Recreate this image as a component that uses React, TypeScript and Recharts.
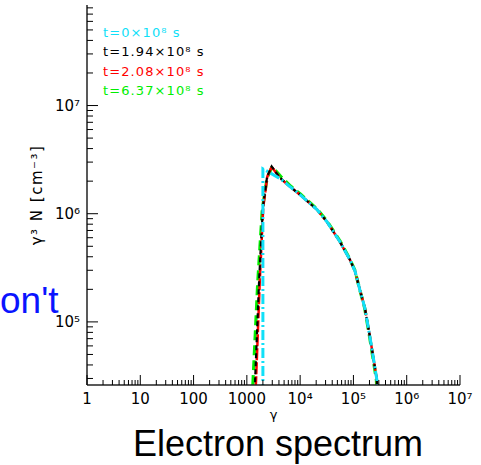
import React from 'react';
import { LineChart, Line, XAxis, YAxis, Legend } from 'recharts';

// values (log-log electron spectrum)
const seriesNames = ['t=0×10⁸ s', 't=1.94×10⁸ s', 't=2.08×10⁸ s', 't=6.37×10⁸ s'];
const seriesColors = ['#10e0f8', '#000000', '#ff0000', '#00ee00'];

const gammaT0 = [2000, 2000, 4300, 6440, 9910, 20700, 31800, 55800, 86000, 107000, 132000, 164000, 204000, 276000, 300000];
const nT0 = [1.0e4, 2.6e6, 2.1e6, 1.78e6, 1.5e6, 1.09e6, 8.43e5, 5.5e5, 3.75e5, 2.95e5, 1.98e5, 1.34e5, 7.3e4, 2.9e4, 1.0e4];

const gammaT1 = [1220, 1420, 1700, 2000, 2400, 2920, 4170, 6440, 9910, 20700, 31800, 55800, 86000, 107000, 132000, 164000, 204000, 276000, 300000];
const nT1 = [1.0e4, 2.7e4, 2.45e5, 1.15e6, 2.2e6, 2.74e6, 2.15e6, 1.78e6, 1.5e6, 1.09e6, 8.43e5, 5.5e5, 3.75e5, 2.95e5, 1.98e5, 1.34e5, 7.3e4, 2.9e4, 1.0e4];

const gammaT2 = [1270, 1480, 1750, 2030, 2420, 2920, 4170, 6440, 9910, 20700, 31800, 55800, 86000, 107000, 132000, 164000, 204000, 276000, 300000];
const nT2 = [1.0e4, 2.7e4, 2.4e5, 1.15e6, 2.2e6, 2.72e6, 2.14e6, 1.78e6, 1.5e6, 1.09e6, 8.43e5, 5.5e5, 3.75e5, 2.95e5, 1.98e5, 1.34e5, 7.3e4, 2.9e4, 1.0e4];

const gammaT3 = [1130, 1300, 1600, 1950, 2400, 2980, 4350, 6600, 10100, 21000, 32300, 56500, 86500, 107000, 131000, 162000, 200000, 270000, 295000];
const nT3 = [1.0e4, 2.7e4, 2.3e5, 1.1e6, 2.15e6, 2.72e6, 2.2e6, 1.8e6, 1.52e6, 1.1e6, 8.5e5, 5.55e5, 3.78e5, 2.98e5, 2.0e5, 1.35e5, 7.4e4, 2.9e4, 1.0e4];

const xDomain = [1, 1e7];
const yDomain = [2.61e4, 8.5e7];
const xMajorLabels = ['1', '10', '100', '1000', '10⁴', '10⁵', '10⁶', '10⁷'];
const yMajorLabels: Record<number, string> = { 5: '10⁵', 6: '10⁶', 7: '10⁷' };

const zip = (g: number[], n: number[]) => g.map((v, i) => ({ g: v, n: n[i] }));
const series = [
  { name: seriesNames[0], color: seriesColors[0], data: zip(gammaT0, nT0) },
  { name: seriesNames[1], color: seriesColors[1], data: zip(gammaT1, nT1) },
  { name: seriesNames[2], color: seriesColors[2], data: zip(gammaT2, nT2) },
  { name: seriesNames[3], color: seriesColors[3], data: zip(gammaT3, nT3) },
];

// log ticks 1..9 per decade inside a domain
const logTicks = (lo: number, hi: number) => {
  const out: number[] = [];
  for (let k = Math.floor(Math.log10(lo)); k <= Math.ceil(Math.log10(hi)); k++) {
    for (let m = 1; m <= 9; m++) {
      const v = m * Math.pow(10, k);
      if (v >= lo * 0.999 && v <= hi * 1.001) out.push(v);
    }
  }
  return out;
};
const isMajor = (v: number) => Math.abs(Math.log10(v) - Math.round(Math.log10(v))) < 1e-6;
const xTicks = logTicks(xDomain[0], xDomain[1]);
const yTicks = logTicks(yDomain[0], yDomain[1]);

const FONT = '"DejaVu Sans", sans-serif';

const BottomTick = ({ x, y, payload }: any) => {
  const v = payload.value;
  const major = isMajor(v);
  return (
    <g>
      <line x1={x} x2={x} y1={y} y2={y - (major ? 10 : 5)} stroke="#000" />
      {major && (
        <text x={x} y={y + 19} textAnchor="middle" fontSize={15} fontFamily={FONT} fill="#000">
          {xMajorLabels[Math.round(Math.log10(v))]}
        </text>
      )}
    </g>
  );
};

const TopTick = ({ x, y, payload }: any) => {
  const major = isMajor(payload.value);
  return <line x1={x} x2={x} y1={y} y2={y + (major ? 10 : 5)} stroke="#000" />;
};

const LeftTick = ({ x, y, payload }: any) => {
  const v = payload.value;
  const major = isMajor(v);
  return (
    <g>
      <line x1={x} x2={x + (major ? 11 : 6)} y1={y} y2={y} stroke="#000" />
      {major && (
        <text x={x - 7} y={y + 5} textAnchor="end" fontSize={15} fontFamily={FONT} fill="#000">
          {yMajorLabels[Math.round(Math.log10(v))]}
        </text>
      )}
    </g>
  );
};

const RightTick = ({ x, y, payload }: any) => {
  const major = isMajor(payload.value);
  return <line x1={x} x2={x - (major ? 11 : 6)} y1={y} y2={y} stroke="#000" />;
};

const YLabel = ({ viewBox }: any) => {
  const cx = viewBox.x + 10;
  const cy = viewBox.y + viewBox.height / 2;
  return (
    <text x={cx} y={cy} transform={`rotate(-90 ${cx} ${cy})`} textAnchor="middle" dominantBaseline="central"
      fontSize={15} letterSpacing={1.5} fontFamily={FONT} fill="#000">
      γ³ N [cm⁻³]
    </text>
  );
};

const XLabel = ({ viewBox }: any) => (
  <text x={viewBox.x + viewBox.width / 2} y={viewBox.y + 34} textAnchor="middle" fontSize={13} fontFamily={FONT} fill="#000">
    γ
  </text>
);

const renderLegend = () => (
  <div style={{ fontFamily: FONT, fontSize: 13, letterSpacing: 1.1, lineHeight: '19.3px' }}>
    {series.map((s) => (
      <div key={s.name} style={{ color: s.color }}>{s.name}</div>
    ))}
  </div>
);

const lineStyles = [
  { dash: '10 3 2 3', width: 3 },
  { dash: '5 3', width: 2.2 },
  { dash: '12 2', width: 2.5 },
  { dash: '10 5', width: 3.2 },
];

// draw order: green, red, black, cyan on top
const drawOrder = [3, 2, 1, 0];

export default function App() {
  return (
    <div style={{ position: 'absolute', left: 0, top: 0, width: 481, height: 465, background: '#fff', fontFamily: FONT }}>
      <LineChart width={481} height={465} margin={{ top: 5, right: 21, bottom: 50, left: 27 }}>
        <XAxis dataKey="g" type="number" scale="log" domain={xDomain} allowDataOverflow ticks={xTicks} interval={0}
          tickSize={0} tickMargin={0} tickLine={false} tick={BottomTick} height={30}
          axisLine={{ stroke: '#222', strokeWidth: 1.5 }} label={{ content: XLabel }} />
        <XAxis xAxisId="top" orientation="top" dataKey="g" type="number" scale="log" domain={xDomain} allowDataOverflow
          ticks={xTicks} interval={0} tickSize={0} tickMargin={0} tickLine={false} tick={TopTick} height={0}
          axisLine={{ stroke: '#222', strokeWidth: 1.5 }} />
        <YAxis dataKey="n" type="number" scale="log" domain={yDomain} allowDataOverflow ticks={yTicks} interval={0}
          tickSize={0} tickMargin={0} tickLine={false} tick={LeftTick} width={60}
          axisLine={{ stroke: '#222', strokeWidth: 1.5 }} label={{ content: YLabel }} />
        <YAxis yAxisId="right" orientation="right" dataKey="n" type="number" scale="log" domain={yDomain} allowDataOverflow
          ticks={yTicks} interval={0} tickSize={0} tickMargin={0} tickLine={false} tick={RightTick} width={0}
          axisLine={{ stroke: '#222', strokeWidth: 1.5 }} />
        <Legend content={renderLegend} layout="vertical" align="center" verticalAlign="middle"
          wrapperStyle={{ left: 103, top: 23, width: 'auto' }} />
        {drawOrder.map((i) => (
          <Line key={series[i].name} data={series[i].data} dataKey="n" name={series[i].name} type="linear"
            stroke={series[i].color} strokeWidth={lineStyles[i].width} strokeDasharray={lineStyles[i].dash}
            dot={false} isAnimationActive={false} />
        ))}
      </LineChart>
      <svg width={481} height={465} style={{ position: 'absolute', left: 0, top: 0, pointerEvents: 'none' }}>
        <text x={0} y={313} fontSize={37} fontFamily='"Liberation Sans", Arial, sans-serif' fill="#0a14ff">on't</text>
        <text x={278} y={456} textAnchor="middle" fontSize={36} fontFamily='"Liberation Sans", Arial, sans-serif' fill="#000">
          Electron spectrum
        </text>
      </svg>
    </div>
  );
}
